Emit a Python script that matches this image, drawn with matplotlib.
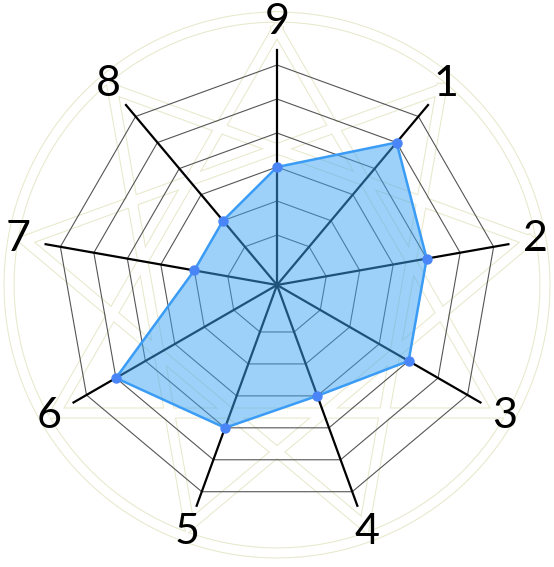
import numpy as np
import matplotlib
matplotlib.use("Agg")
from matplotlib import pyplot as plt

# dados do radar (sentido horario a partir do topo)
labels = ["9", "1", "2", "3", "4", "5", "6", "7", "8"]
values = [2, 4, 3, 3, 2, 3, 4, 1, 1]
levels = [0, 1, 2, 3, 4, 5]

r_min = -1.47
r_max = 6.765
spoke_end = 5.44
label_r = 6.26
circle_r = [6.26, 6.56]
star_r = 6.06

pale = "#e8e8cc"

n = len(labels)
angles = np.arange(n) * 2 * np.pi / n
closed = np.append(angles, angles[0])

fig = plt.figure(figsize=(5.54, 5.67), dpi=100)
W, H = 554, 567
cx, cy, R = 277, 285, 280
ax = fig.add_axes([(cx - R) / W, (H - cy - R) / H, 2 * R / W, 2 * R / H],
                  projection="polar")
ax.set_theta_zero_location("N")
ax.set_theta_direction(-1)
ax.set_ylim(r_min, r_max)
ax.grid(False)
ax.set_xticks([])
ax.set_yticks([])
ax.spines["polar"].set_visible(False)
ax.patch.set_alpha(0)

# fundo decorativo: circulos e estrela (linhas duplas)
t = np.linspace(0, 2 * np.pi, 720)
c = np.mean(circle_r)
for color, lw, z in [(pale, 8.0, 1), ("white", 6.5, 2)]:
    ax.plot(t, np.full_like(t, c), color=color, lw=lw, zorder=z)
    for k in range(3):
        tri = angles[[k, k + 3, k + 6, k]]
        ax.plot(tri, [star_r] * 4, color=color, lw=lw, zorder=z,
                solid_joinstyle="miter")

# grade poligonal
for lv in levels:
    ax.plot(closed, [lv] * len(closed), color="#555555", lw=0.8, zorder=3)

# eixos radiais
for a in angles:
    ax.plot([a, a], [r_min, spoke_end], color="black", lw=1.6, zorder=4)

# serie
vals = np.append(values, values[0])
ax.fill(closed, vals, color="#3da5f4", alpha=0.5, lw=0, zorder=5)
ax.plot(closed, vals, color="#3b9cf5", lw=1.8, zorder=6)
ax.plot(angles, values, "o", color="#4a85f8", ms=6.5, zorder=7)

# rotulos
for a, lab in zip(angles, labels):
    ax.text(a, label_r, lab, ha="center", va="center", fontsize=31,
            family=["Lato", "DejaVu Sans"], color="black", zorder=8,
            clip_on=False)

fig.savefig("out.png", dpi=100)
